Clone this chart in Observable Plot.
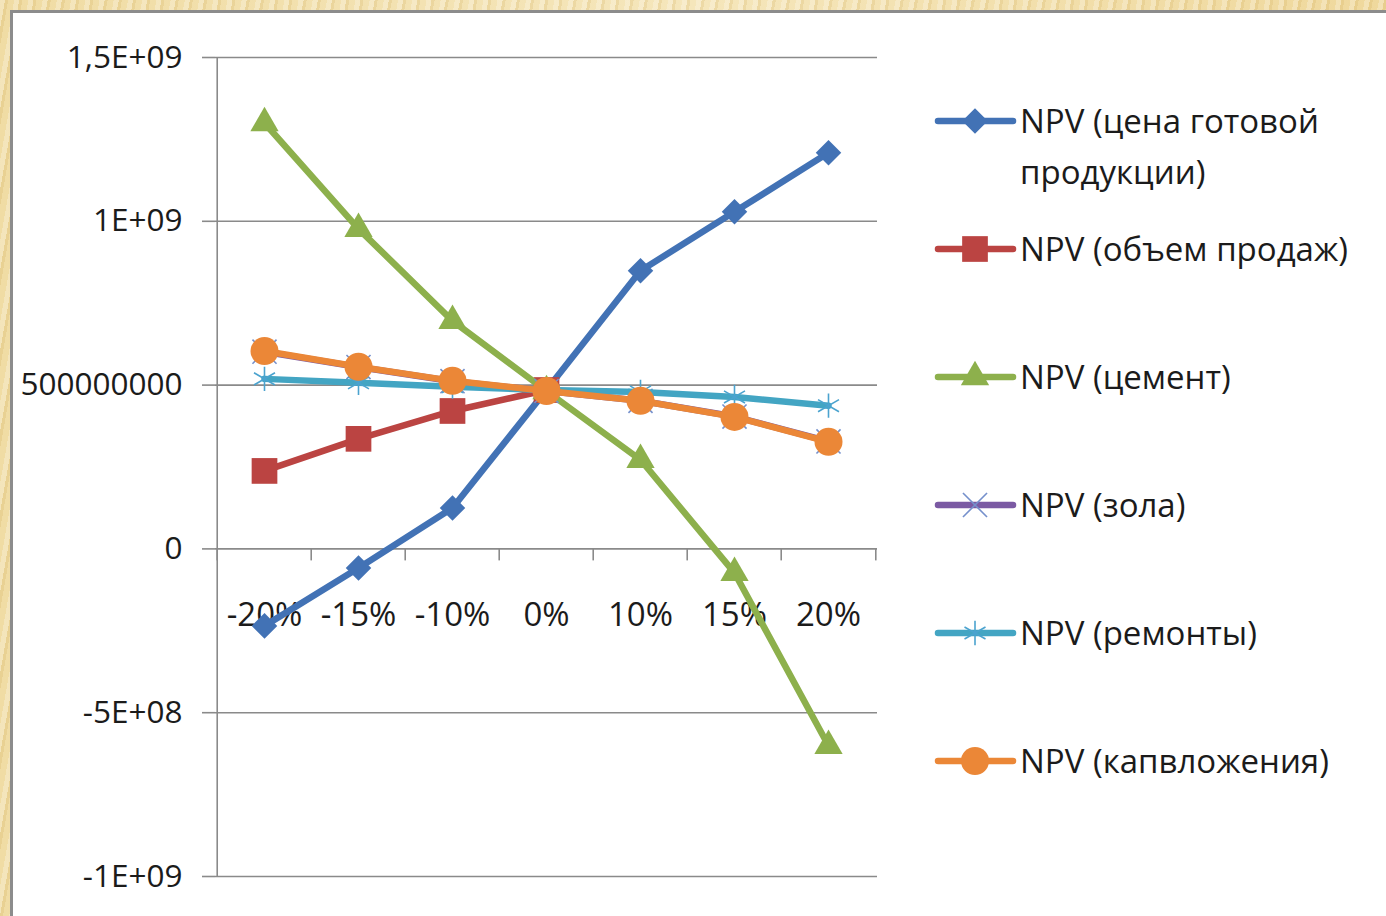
<!DOCTYPE html>
<html>
<head>
<meta charset="utf-8">
<script src="https://cdn.jsdelivr.net/npm/d3@7"></script>
<script src="https://cdn.jsdelivr.net/npm/@observablehq/plot@0.6"></script>
<style>
  html, body { margin: 0; padding: 0; }
  body {
    width: 1386px; height: 916px; overflow: hidden; position: relative;
    background:
      repeating-linear-gradient(100deg, rgba(255,255,255,0.25) 0 5px, rgba(200,160,70,0.18) 5px 8px, rgba(255,255,255,0) 8px 14px),
      linear-gradient(90deg, #f0dca4, #f5e6bb 50%, #efd89c);
  }
  #panel {
    position: absolute; left: 10px; top: 10px; width: 1420px; height: 940px;
    background: #fff; border: 3px solid #8c8c8c; overflow: hidden;
  }
  #chart { position: absolute; left: 0; top: 0; }
  #legend { position: absolute; left: 0; top: 0; }
</style>
</head>
<body>
<div id="panel">
  <div id="chart"></div>
  <svg id="legend" width="1373" height="903"></svg>
</div>
<script>
// ---- data ----
const categories = ["-20%", "-15%", "-10%", "0%", "10%", "15%", "20%"];
const seriesNames = ["NPV (цена готовой продукции)", "NPV (объем продаж)", "NPV (цемент)", "NPV (зола)", "NPV (ремонты)", "NPV (капвложения)"];
const legendLines = [["NPV (цена готовой", "продукции)"], ["NPV (объем продаж)"], ["NPV (цемент)"], ["NPV (зола)"], ["NPV (ремонты)"], ["NPV (капвложения)"]];
const priceValues   = [-2.35e8, -5.8e7, 1.25e8, 4.85e8, 8.49e8, 1.029e9, 1.209e9];
const salesValues   = [2.38e8, 3.36e8, 4.21e8, 4.85e8, null, null, null];
const cementValues  = [1.30e9, 9.77e8, 6.96e8, 4.82e8, 2.72e8, -7.3e7, -6.01e8];
const ashValues     = [6.02e8, 5.55e8, 5.12e8, 4.82e8, 4.52e8, 4.04e8, 3.28e8];
const repairValues  = [5.19e8, 5.07e8, 4.95e8, 4.85e8, 4.79e8, 4.64e8, 4.37e8];
const capexValues   = [6.04e8, 5.56e8, 5.13e8, 4.82e8, 4.52e8, 4.03e8, 3.27e8];
const yTicks = [-1e9, -5e8, 0, 5e8, 1e9, 1.5e9];
const yTickLabels = ["-1E+09", "-5E+08", "0", "500000000", "1E+09", "1,5E+09"];

// ---- styles ----
const colors = ["#4272b5", "#bb4442", "#8db04c", "#7b5aa3", "#43a5c3", "#eb8737"];
const symbols = ["diamond2", "square", "triangle", "times", "asterisk", "circle"];
const radii = [11.5, 14.5, 10.5, 11, 11.5, 14];
const markerStroke = [null, null, null, "#7590cc", "#4ba3cf", null];
const valueSets = [priceValues, salesValues, cementValues, ashValues, repairValues, capexValues];

const series = seriesNames.map((name, si) => ({
  name,
  color: colors[si],
  symbol: symbols[si],
  r: radii[si],
  stroke: markerStroke[si],
  rows: valueSets[si].map((v, i) => ({cat: categories[i], value: v})).filter(d => d.value != null)
}));

const W = 880, H = 903, ML = 202, MR = 16, MT = 44, MB = 40;
const step = (W - ML - MR) / categories.length;
const tickLen = 12 / (H - MT - MB) * (1.5e9 - (-1e9));
const font = "'Open Sans', 'DejaVu Sans', sans-serif";
const FS = 33;

const marks = [
  Plot.gridY(yTicks, {stroke: "#8a8a8a", strokeOpacity: 1, strokeWidth: 1.6}),
  Plot.axisY(yTicks, {
    tickSize: 13, tickPadding: 20, stroke: "#8a8a8a", strokeWidth: 1.6,
    tickFormat: d => yTickLabels[yTicks.indexOf(d)],
    fontSize: 31.5, fill: "#1b1b1b", label: null
  }),
  Plot.ruleX([categories[0]], {dx: -step / 2, y1: -1e9, y2: 1.5e9, stroke: "#8a8a8a", strokeWidth: 1.6}),
  Plot.ruleX(categories, {x: d => d, dx: -step / 2, y1: 0, y2: -tickLen, stroke: "#8a8a8a", strokeWidth: 1.6}),
  Plot.ruleX([categories[categories.length - 1]], {x: d => d, dx: step / 2, y1: 0, y2: -tickLen, stroke: "#8a8a8a", strokeWidth: 1.6}),
  Plot.text(categories, {x: d => d, y: () => 0, dy: 67, fontSize: FS, fill: "#1b1b1b", fontFamily: font})
];
for (const s of series) {
  marks.push(Plot.line(s.rows, {x: "cat", y: "value", stroke: s.color, strokeWidth: 6.5, strokeLinejoin: "round", strokeLinecap: "round"}));
  if (s.stroke) {
    marks.push(Plot.dot(s.rows, {x: "cat", y: "value", symbol: s.symbol, r: s.r, stroke: s.stroke, strokeWidth: 1.6, fill: "none"}));
  } else {
    marks.push(Plot.dot(s.rows, {x: "cat", y: "value", symbol: s.symbol, r: s.r, fill: s.color, stroke: "none"}));
  }
}

const chart = Plot.plot({
  width: W, height: H,
  marginLeft: ML, marginRight: MR, marginTop: MT, marginBottom: MB,
  x: {type: "point", domain: categories, padding: 0.5, axis: null},
  y: {domain: [-1e9, 1.5e9], axis: null},
  style: {background: "transparent", fontFamily: font, overflow: "hidden"},
  marks
});
document.getElementById("chart").appendChild(chart);

// ---- legend ----
const lg = d3.select("#legend");
const legendY = [108, 236, 364, 492, 620, 748];
series.forEach((s, i) => {
  const y = legendY[i];
  lg.append("line").attr("x1", 925).attr("x2", 1000).attr("y1", y).attr("y2", y)
    .attr("stroke", s.color).attr("stroke-width", 6.5).attr("stroke-linecap", "round");
  const symType = {diamond2: d3.symbolDiamond2, square: d3.symbolSquare, triangle: d3.symbolTriangle, times: d3.symbolTimes, asterisk: d3.symbolAsterisk, circle: d3.symbolCircle}[s.symbol];
  const p = lg.append("path").attr("transform", `translate(962,${y})`)
    .attr("d", d3.symbol(symType, Math.PI * s.r * s.r)());
  if (s.stroke) p.attr("fill", "none").attr("stroke", s.stroke).attr("stroke-width", 1.6);
  else p.attr("fill", s.color);
  legendLines[i].forEach((t, j) => {
    lg.append("text").attr("x", 1007).attr("y", y + j * 51).attr("dy", "0.35em")
      .attr("font-family", font).attr("font-size", FS).attr("fill", "#1b1b1b").text(t);
  });
});
</script>
</body>
</html>
